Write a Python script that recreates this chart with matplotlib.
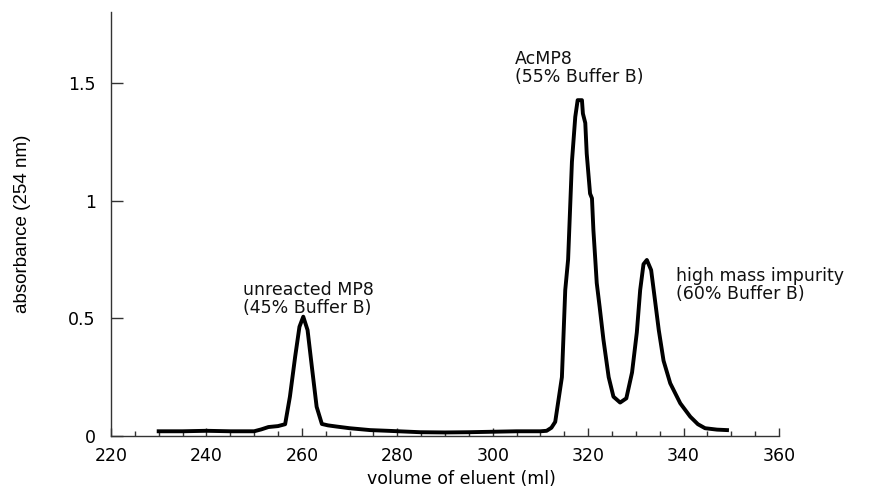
import matplotlib
matplotlib.use("Agg")
import matplotlib.pyplot as plt
from matplotlib.ticker import MultipleLocator

# chromatogram trace
volume = [230, 235, 240, 245, 250, 251.5, 253, 255, 256.5, 257.5, 258.6, 259.5,
          260.3, 261.2, 262.1, 263.1, 264.2, 265.5, 267.3, 270, 274.3, 278,
          284.8, 290, 295, 300, 305, 310, 311.3, 312.3, 313.1, 314.5, 315.2,
          315.8, 316.6, 317.3, 317.8, 318.7, 318.9, 319.4, 319.7, 320.4, 320.8,
          321.1, 321.5, 321.8, 322.4, 323.2, 324.3, 325.3, 326.7, 328.0, 329.2,
          330.2, 330.9, 331.6, 332.3, 333.2, 334.0, 334.8, 335.8, 337.2, 339.3,
          341.4, 343.0, 344.5, 347, 349.1]
absorbance = [0.02, 0.02, 0.022, 0.02, 0.02, 0.028, 0.038, 0.042, 0.05, 0.167,
              0.337, 0.464, 0.507, 0.45, 0.294, 0.124, 0.051, 0.045, 0.04,
              0.033, 0.025, 0.022, 0.016, 0.015, 0.016, 0.018, 0.02, 0.02,
              0.022, 0.035, 0.06, 0.25, 0.62, 0.75, 1.165, 1.356, 1.427, 1.427,
              1.37, 1.33, 1.20, 1.03, 1.01, 0.875, 0.748, 0.65, 0.55, 0.41,
              0.25, 0.167, 0.142, 0.16, 0.27, 0.44, 0.62, 0.73, 0.748, 0.705,
              0.578, 0.45, 0.32, 0.224, 0.139, 0.082, 0.05, 0.033, 0.027, 0.025]

labels = ["unreacted MP8\n(45% Buffer B)",
          "AcMP8\n(55% Buffer B)",
          "high mass impurity\n(60% Buffer B)"]
label_x = [247.6, 304.7, 338.4]
label_y = [0.66, 1.64, 0.718]

xticks = [220, 240, 260, 280, 300, 320, 340, 360]
yticks = [0, 0.5, 1, 1.5]
ytick_labels = ["0", "0.5", "1", "1.5"]

fig = plt.figure(figsize=(8.71, 4.88), dpi=100)
ax = fig.add_axes([0.1274, 0.1066, 0.767, 0.868])

ax.plot(volume, absorbance, color="black", lw=2.8, solid_joinstyle="round")

for txt, x, y in zip(labels, label_x, label_y):
    ax.text(x, y, txt, ha="left", va="top", fontsize=12.5,
            linespacing=1.0, color="#111111")

ax.set_xlim(220, 360)
ax.set_ylim(0, 1.8)
ax.set_xticks(xticks)
ax.set_yticks(yticks)
ax.set_yticklabels(ytick_labels)
ax.xaxis.set_minor_locator(MultipleLocator(5))

for side in ["top", "right"]:
    ax.spines[side].set_visible(False)
for side in ["left", "bottom"]:
    ax.spines[side].set_linewidth(1.0)
    ax.spines[side].set_color("#333333")

ax.tick_params(axis="x", which="major", direction="in", length=6, width=1,
               color="#333333", labelsize=12.5, pad=8)
ax.tick_params(axis="x", which="minor", direction="in", length=3.5, width=1,
               color="#333333")
ax.tick_params(axis="y", which="major", direction="in", length=8.5, width=1,
               color="#333333", labelsize=12.5, pad=11)

ax.set_xlabel("volume of eluent (ml)", fontsize=12.5, va="top")
ax.xaxis.set_label_coords(0.525, -0.08)
ax.set_ylabel("absorbance (254 nm)", fontsize=13.5, va="center",
              family=["Liberation Sans", "DejaVu Sans"])
ax.yaxis.set_label_coords(-0.133, 0.5)

fig.savefig("out.png", dpi=100)
